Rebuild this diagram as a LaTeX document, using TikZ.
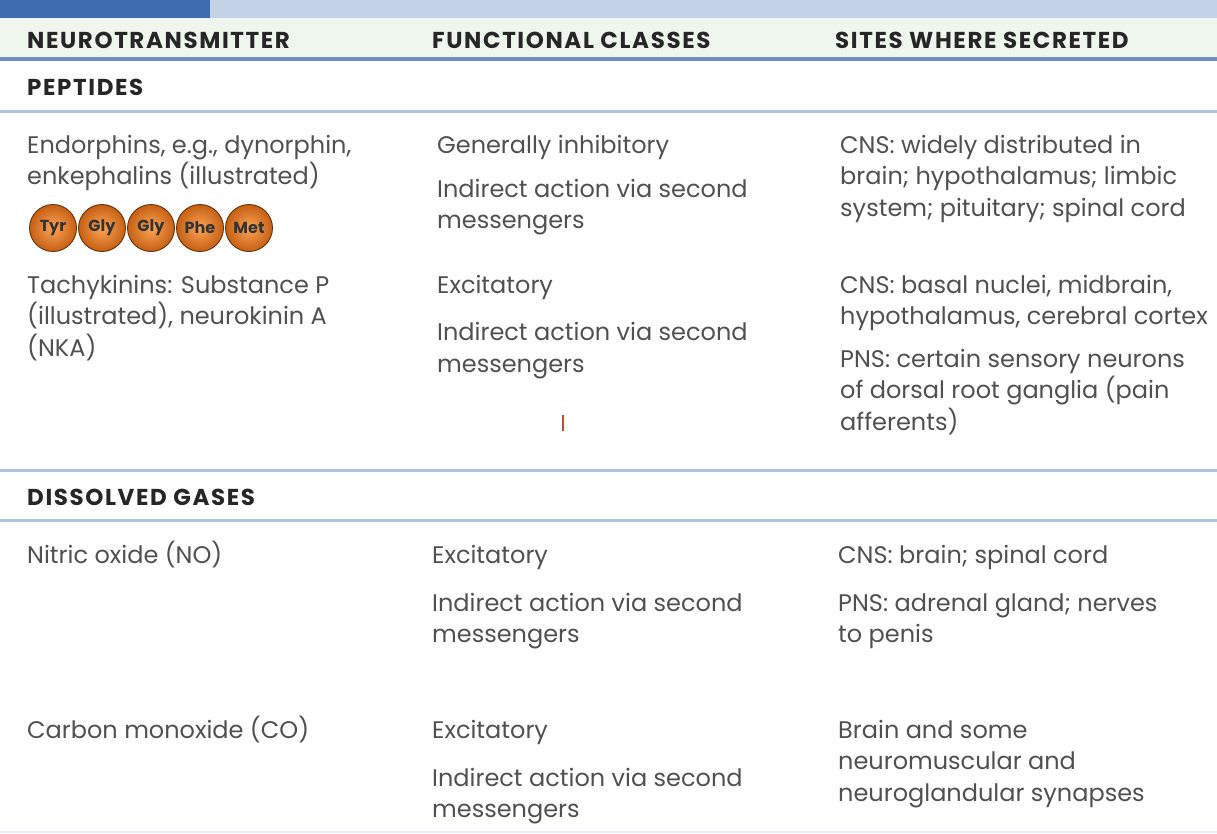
\documentclass[tikz,border=0pt]{standalone}
\usepackage{fontspec}
\setmainfont{Poppins}
\newfontfamily\headfont[LetterSpace=7]{Poppins}
\definecolor{bandblue}{RGB}{63,108,176}
\definecolor{bandpale}{RGB}{196,210,232}
\definecolor{headbg}{RGB}{238,246,238}
\definecolor{ruleblue}{RGB}{112,144,192}
\definecolor{rulepale}{RGB}{176,196,222}
\definecolor{bodygrey}{RGB}{80,80,80}
\definecolor{pepball}{RGB}{232,112,24}
\definecolor{peplight}{RGB}{252,165,85}
\definecolor{tickred}{RGB}{192,80,42}
\begin{document}
\begin{tikzpicture}[x=1pt, y=-1pt, line cap=butt,
  head/.style={anchor=base west, inner sep=0pt, font=\headfont\bfseries\fontsize{23}{26}\selectfont, text=black!85},
  cell/.style={anchor=base west, inner sep=0pt, align=left, font=\fontsize{24}{31.5}\selectfont, text=bodygrey},
  pep/.style={circle, minimum size=47pt, inner sep=0pt, shading=radial, inner color=peplight, outer color=pepball!85!black, draw=pepball!45!black, line width=0.9pt, font=\bfseries\fontsize{16}{18}\selectfont, text=black!80},
  hrule/.style={line width=3pt, draw=rulepale}]
  \useasboundingbox (0,0) rectangle (1217,833);
  % top band and header background
  \fill[bandpale] (0,0) rectangle (1217,18);
  \fill[bandblue] (0,0) rectangle (210,18);
  \fill[headbg] (0,18) rectangle (1217,58);
  \node[head] (hnt) at (27,48) {NEUROTRANSMITTER};
  \node[head] (hfc) at (432,48) {FUNCTIONAL CLASSES};
  \node[head] (hsw) at (835,48) {SITES WHERE SECRETED};
  \draw[line width=4pt, draw=ruleblue] (0,59) -- (1217,59);
  % peptides (multi-line cells sit on their last baseline)
  \node[head] (peptides) at (27,95) {PEPTIDES};
  \draw[hrule] (0,111) -- (1217,111);
  \node[cell] (endo) at (27,184.5) {Endorphins, e.g., dynorphin,\\enkephalins (illustrated)};
  \foreach \aa [count=\i] in {Tyr,Gly,Gly,Phe,Met}
    \node[pep] (aa\i) at (4+49*\i,228) {\aa};
  \node[cell] (tachy) at (27,356) {Tachykinins: Substance P\\(illustrated), neurokinin A\\(NKA)};
  \node[cell] (inhib) at (437,153) {Generally inhibitory};
  \node[cell] (indA) at (437,228.5) {Indirect action via second\\messengers};
  \node[cell] (excA) at (437,293) {Excitatory};
  \node[cell] (indB) at (437,372) {Indirect action via second\\messengers};
  \draw[tickred, line width=2pt] (563,415) -- (563,431);
  \node[cell] (cnsA) at (840,216) {CNS: widely distributed in\\brain; hypothalamus; limbic\\system; pituitary; spinal cord};
  \node[cell] (cnsB) at (840,324.5) {CNS: basal nuclei, midbrain,\\hypothalamus, cerebral cortex};
  \node[cell] (pnsB) at (840,430) {PNS: certain sensory neurons\\of dorsal root ganglia (pain\\afferents)};
  \draw[hrule] (0,470) -- (1217,470);
  % dissolved gases
  \node[head] (gases) at (27,505) {DISSOLVED GASES};
  \draw[hrule] (0,520) -- (1217,520);
  \node[cell] (no) at (27,563) {Nitric oxide (NO)};
  \node[cell] (excC) at (432,563) {Excitatory};
  \node[cell] (indC) at (432,642.5) {Indirect action via second\\messengers};
  \node[cell] (cnsC) at (838,563) {CNS: brain; spinal cord};
  \node[cell] (pnsC) at (838,642.5) {PNS: adrenal gland; nerves\\to penis};
  \node[cell] (co) at (27,738) {Carbon monoxide (CO)};
  \node[cell] (excD) at (432,738) {Excitatory};
  \node[cell] (indD) at (432,817.5) {Indirect action via second\\messengers};
  \node[cell] (brain) at (838,801) {Brain and some\\neuromuscular and\\neuroglandular synapses};
  \draw[line width=2pt, draw=rulepale!30] (0,832) -- (1217,832);
\end{tikzpicture}
\end{document}
